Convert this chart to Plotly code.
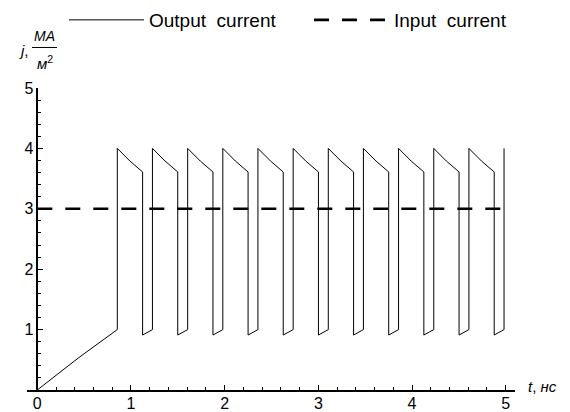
import plotly.graph_objects as go

# ---------------- data ----------------
# initial charging ramp of the output current
ramp_t = [0.0, 0.1, 0.2, 0.3, 0.4, 0.5, 0.6, 0.7, 0.8, 0.854]
ramp_j = [0.0, 0.124, 0.246, 0.366, 0.485, 0.601, 0.716, 0.829, 0.941, 1.0]

# pulse train of the output current
pulse_t = [0.854, 1.229, 1.605, 1.980, 2.355, 2.731, 3.106, 3.481, 3.856, 4.232, 4.607, 4.982]
pulse_base = [1.0, 1.0, 1.0, 1.0, 1.0, 1.0, 1.0, 1.0, 1.0, 1.0, 1.0, 1.0]
pulse_peak = [4.0, 4.0, 4.0, 4.0, 4.0, 4.0, 4.0, 4.0, 4.0, 4.0, 4.0, 4.0]
mid_t = [0.989, 1.364, 1.740, 2.115, 2.490, 2.866, 3.241, 3.616, 3.991, 4.367, 4.742]
mid_j = [3.79, 3.79, 3.79, 3.79, 3.79, 3.79, 3.79, 3.79, 3.79, 3.79, 3.79]
drop_t = [1.124, 1.499, 1.875, 2.250, 2.625, 3.001, 3.376, 3.751, 4.126, 4.502, 4.877]
drop_hi = [3.61, 3.61, 3.61, 3.61, 3.61, 3.61, 3.61, 3.61, 3.61, 3.61, 3.61]
drop_lo = [0.91, 0.91, 0.91, 0.91, 0.91, 0.91, 0.91, 0.91, 0.91, 0.91, 0.91]

# input current (constant)
input_t = [0.0, 5.0]
input_j = [3.0, 3.0]

x_ticks = [0, 1, 2, 3, 4, 5]
y_ticks = [1, 2, 3, 4, 5]

# ---------------- build output polyline ----------------
out_t = list(ramp_t)
out_j = list(ramp_j)
for k in range(len(pulse_t)):
    out_t += [pulse_t[k], pulse_t[k]]
    out_j += [pulse_base[k], pulse_peak[k]]
    if k < len(drop_t):
        out_t += [mid_t[k], drop_t[k], drop_t[k]]
        out_j += [mid_j[k], drop_hi[k], drop_lo[k]]

FONT = "Liberation Sans, Arial, sans-serif"

fig = go.Figure()
fig.add_trace(go.Scatter(
    x=out_t, y=out_j, mode="lines", name="Output\u00a0\u00a0current",
    line=dict(color="black", width=1), cliponaxis=False,
))
fig.add_trace(go.Scatter(
    x=input_t, y=input_j, mode="lines", name="Input\u00a0\u00a0current",
    line=dict(color="black", width=2.6, dash="15px,13px"),
))

W, H = 570, 412
ML, MR, MT, MB = 27, 55, 88, 22
pw = W - ML - MR
ph = H - MT - MB

def px_x(p):
    return (p - ML) / pw

def px_y(p):
    return (H - MB - p) / ph

fig.update_layout(
    width=W, height=H, autosize=False,
    margin=dict(l=ML, r=MR, t=MT, b=MB, pad=0, autoexpand=False),
    paper_bgcolor="white", plot_bgcolor="white",
    font=dict(family=FONT, size=16, color="black"),
    showlegend=True,
    legend=dict(
        orientation="h", x=px_x(64), xanchor="left",
        y=px_y(20), yanchor="middle",
        font=dict(family=FONT, size=19, color="black"),
        bgcolor="rgba(0,0,0,0)", itemwidth=75, tracegroupgap=0,
        entrywidth=155,
    ),
    xaxis=dict(
        range=[-0.110, 5.099], showgrid=False, zeroline=False,
        showline=True, linecolor="black", linewidth=1.6,
        tickvals=x_ticks, ticks="inside", ticklen=5, tickwidth=1, tickcolor="black",
        minor=dict(dtick=0.2, tick0=0, ticks="inside", ticklen=3, tickcolor="black"),
        tickfont=dict(family=FONT, size=16, color="black"),
        ticklabelstandoff=-2,
        fixedrange=True,
    ),
    yaxis=dict(
        range=[0, 5], showgrid=False, zeroline=False,
        anchor="free", position=px_x(37.3),
        showline=True, linecolor="black", linewidth=1.6,
        tickvals=y_ticks, ticks="inside", ticklen=5, tickwidth=1, tickcolor="black",
        minor=dict(dtick=0.2, tick0=0, ticks="inside", ticklen=3, tickcolor="black"),
        tickfont=dict(family=FONT, size=16, color="black"),
        fixedrange=True,
    ),
)

# axis labels
fig.add_annotation(text="<i>t</i>, <i>нс</i>", xref="paper", yref="paper",
                   x=px_x(526), y=px_y(386), xanchor="left", yanchor="middle",
                   showarrow=False, font=dict(family=FONT, size=15, color="black"))
fig.add_annotation(text="<i>j</i>,", xref="paper", yref="paper",
                   x=px_x(17), y=px_y(51), xanchor="left", yanchor="middle",
                   showarrow=False, font=dict(family=FONT, size=15, color="black"))
fig.add_annotation(text="<i>МА</i>", xref="paper", yref="paper",
                   x=px_x(44), y=px_y(36), xanchor="center", yanchor="middle",
                   showarrow=False, font=dict(family=FONT, size=14, color="black"))
fig.add_annotation(text="<i>м</i><sup>2</sup>", xref="paper", yref="paper",
                   x=px_x(45), y=px_y(63), xanchor="center", yanchor="middle",
                   showarrow=False, font=dict(family=FONT, size=15, color="black"))
fig.add_shape(type="line", xref="paper", yref="paper",
              x0=px_x(32), x1=px_x(57), y0=px_y(47.5), y1=px_y(47.5),
              line=dict(color="black", width=1))

fig.write_html(
    "out.html",
    config={"displayModeBar": False},
    post_script="document.body.style.margin='0';document.body.style.overflow='hidden';",
)
